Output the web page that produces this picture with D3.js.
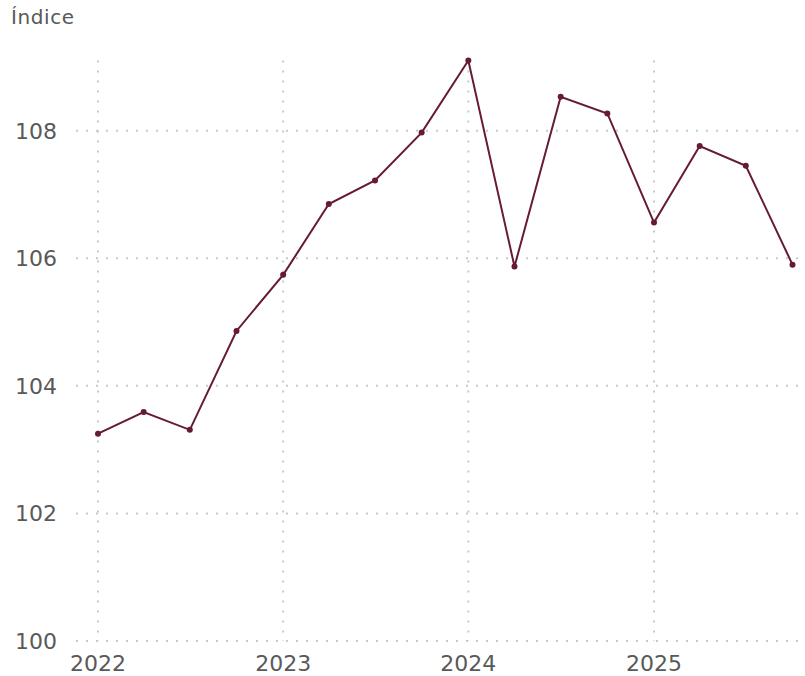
<!DOCTYPE html>
<html>
<head>
<meta charset="utf-8">
<script src="https://cdn.jsdelivr.net/npm/d3@7"></script>
<style>
  html, body { margin: 0; padding: 0; background: #fff; }
  svg { display: block; }
  text { font-family: "DejaVu Sans", "Noto Sans", sans-serif; }
</style>
</head>
<body>
<svg id="chart" width="805" height="676"></svg>
<script>
const dates = ["2022-01-01","2022-04-01","2022-07-01","2022-10-01",
               "2023-01-01","2023-04-01","2023-07-01","2023-10-01",
               "2024-01-01","2024-04-01","2024-07-01","2024-10-01",
               "2025-01-01","2025-04-01","2025-07-01","2025-10-01"];
const values = [103.25, 103.59, 103.31, 104.86,
                105.74, 106.85, 107.22, 107.97,
                109.10, 105.87, 108.53, 108.27,
                106.56, 107.76, 107.45, 105.90];
const yTicks = [100, 102, 104, 106, 108];
const xTicks = ["2022-01-01","2023-01-01","2024-01-01","2025-01-01"];
const yTitle = "Índice";

(function () {
const parse = d3.utcParse("%Y-%m-%d");
const data = dates.map((d, i) => ({ date: parse(d), value: values[i] }));

const svg = d3.select("#chart");
const mLeft = 98, mRight = 792.5, mTop = 60.5, mBottom = 641;

const x = d3.scaleUtc()
  .domain(d3.extent(data, d => d.date))
  .range([mLeft, mRight]);
const y = d3.scaleLinear()
  .domain([100, d3.max(values)])
  .range([mBottom, mTop]);

const grid = "#c9c9c9";
const textColor = "#595959";

svg.append("g")
  .selectAll("line")
  .data(yTicks)
  .join("line")
  .attr("x1", 76).attr("x2", 805)
  .attr("y1", d => y(d)).attr("y2", d => y(d))
  .attr("stroke", grid).attr("stroke-width", 2)
  .attr("stroke-dasharray", "2,8");

svg.append("g")
  .selectAll("line")
  .data(xTicks.map(parse))
  .join("line")
  .attr("x1", d => x(d)).attr("x2", d => x(d))
  .attr("y1", mTop).attr("y2", mBottom)
  .attr("stroke", grid).attr("stroke-width", 2)
  .attr("stroke-dasharray", "2,8");

svg.append("g")
  .selectAll("text")
  .data(yTicks)
  .join("text")
  .attr("x", 57)
  .attr("y", d => y(d))
  .attr("dy", "0.36em")
  .attr("text-anchor", "end")
  .attr("fill", textColor)
  .attr("font-size", 22)
  .text(d => d);

svg.append("g")
  .selectAll("text")
  .data(xTicks.map(parse))
  .join("text")
  .attr("x", d => x(d))
  .attr("y", 671)
  .attr("text-anchor", "middle")
  .attr("fill", textColor)
  .attr("font-size", 22)
  .text(d => d3.utcFormat("%Y")(d));

svg.append("text")
  .attr("x", 11).attr("y", 24)
  .attr("fill", textColor)
  .attr("font-size", 20)
  .attr("letter-spacing", 0.6)
  .text(yTitle);

const color = "#661b32";
const line = d3.line().x(d => x(d.date)).y(d => y(d.value));
svg.append("path")
  .datum(data)
  .attr("d", line)
  .attr("fill", "none")
  .attr("stroke", color)
  .attr("stroke-width", 2);

svg.append("g")
  .selectAll("circle")
  .data(data)
  .join("circle")
  .attr("cx", d => x(d.date))
  .attr("cy", d => y(d.value))
  .attr("r", 3)
  .attr("fill", color);
})();
</script>
</body>
</html>
